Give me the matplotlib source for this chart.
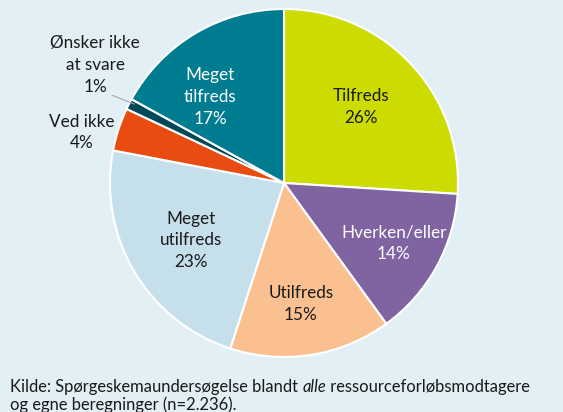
import numpy as np
import matplotlib
matplotlib.use("Agg")
import matplotlib.pyplot as plt

categories = ["Tilfreds", "Hverken/eller", "Utilfreds", "Meget\nutilfreds", "Ved ikke",
              "Ønsker ikke\nat svare", "Meget\ntilfreds"]
values = [26, 14, 15, 23, 4, 1, 17]
colors = ["#CCDC00", "#8064A2", "#FAC090", "#C5E0EB", "#E84C10", "#00485A", "#007C91"]
text_colors = ["#1a1a1a", "white", "#1a1a1a", "#1a1a1a", "#1a1a1a", "#1a1a1a", "white"]
# label placement (radius fraction, angle shift in degrees)
label_pos = [(0.62, 1.5), (0.72, 0), (0.70, -1), (0.63, 1), (1.20, 4), (1.28, -5), (0.65, 10)]
source_parts = ["Kilde: Spørgeskemaundersøgelse blandt ", "alle", " ressourceforløbsmodtagere"]
source_line2 = "og egne beregninger (n=2.236)."

bg = "#E2EFF4"
plt.rcParams['font.family'] = ['Lato', 'DejaVu Sans']

W, H = 563, 412
fig = plt.figure(figsize=(W / 100, H / 100), dpi=100, facecolor=bg)
cx, cy, R = 284, 183, 174
ax = fig.add_axes([(cx - R) / W, (H - cy - R) / H, 2 * R / W, 2 * R / H])
ax.set_facecolor(bg)

wedges, _ = ax.pie(values, colors=colors, startangle=90, counterclock=False, radius=1,
                   wedgeprops=dict(edgecolor="white", linewidth=1.5))
ax.set_xlim(-1, 1)
ax.set_ylim(-1, 1)
ax.set_aspect("equal")
ax.axis("off")

for w, cat, v, tc, (r, da) in zip(wedges, categories, values, text_colors, label_pos):
    mid = np.deg2rad((w.theta1 + w.theta2) / 2 + da)
    x, y = r * np.cos(mid), r * np.sin(mid)
    ax.text(x, y, f"{cat}\n{v}%", ha="center", va="center", fontsize=12.3,
            color=tc, linespacing=1.45, clip_on=False)
    if cat.startswith("Ønsker"):
        m2 = np.deg2rad((w.theta1 + w.theta2) / 2)
        ax.plot([1.0 * np.cos(m2) + 0.03, 1.14 * np.cos(np.deg2rad(150))],
                [1.0 * np.sin(m2), 0.05 + 1.0 * np.sin(m2)], color="#A6A6A6", lw=0.8,
                clip_on=False)

fs = 11.9
t1 = fig.text(10 / W, 1 - 392 / H, source_parts[0], ha="left", va="baseline", fontsize=fs,
              color="#1a1a1a")
t2 = fig.text(0, 0, source_parts[1], fontsize=fs, color="#1a1a1a", style="italic")
t3 = fig.text(0, 0, source_parts[2], fontsize=fs, color="#1a1a1a")
fig.canvas.draw()
r = fig.canvas.get_renderer()
bb1 = t1.get_window_extent(r)
t2.set_position((bb1.x1 / W, 1 - 392 / H))
t2.set_va("baseline")
bb2 = t2.get_window_extent(r)
t3.set_position((bb2.x1 / W, 1 - 392 / H))
t3.set_va("baseline")
fig.text(10 / W, 1 - 410 / H, source_line2, ha="left", va="baseline", fontsize=fs,
         color="#1a1a1a")

fig.savefig("out.png", dpi=100, facecolor=bg)
